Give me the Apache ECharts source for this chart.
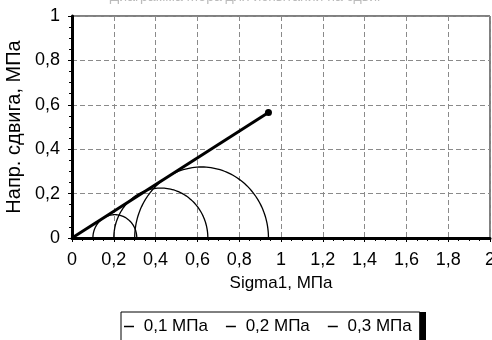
<!DOCTYPE html>
<html>
<head>
<meta charset="utf-8">
<script src="https://cdn.jsdelivr.net/npm/echarts@6/dist/echarts.min.js"></script>
<style>
    html, body { margin: 0; padding: 0; background: #fff; }
    #chart { width: 492px; height: 340px; }
</style>
</head>
<body>
<div id="chart"></div>
<script>
// данные: круги Мора (sigma3 -> sigma1) и огибающая
var circleNames = ['0,1 МПа', '0,2 МПа', '0,3 МПа'];
var sigma3 = [0.1, 0.2, 0.3];
var sigma1 = [0.31, 0.65, 0.94];
var envelope = [[0, 0], [0.94, 0.565]];

(function () {
    let myechart = echarts.init(document.getElementById('chart'));

    // запятая вместо точки
    function fmt(v) {
        return String(Math.round(v * 10) / 10).replace('.', ',');
    }

    // полукруг по двум точкам на оси sigma
    function renderCircle(params, api) {
        let s3 = api.value(0);
        let s1 = api.value(1);
        let c = (s3 + s1) / 2;
        let r = (s1 - s3) / 2;
        let pts = [];
        for (let k = 0; k <= 90; k++) {
            let a = Math.PI * k / 90;
            pts.push(api.coord([c + r * Math.cos(a), r * Math.sin(a)]));
        }
        return {
            type: 'polyline',
            shape: { points: pts },
            style: { stroke: '#000', lineWidth: 1.3, fill: null }
        };
    }

    let series = circleNames.map(function (name, i) {
        return {
            name: name,
            type: 'custom',
            renderItem: renderCircle,
            itemStyle: { color: '#000' },
            encode: { x: [0, 1] },
            data: [[sigma3[i], sigma1[i]]],
            z: 2
        };
    });
    series.push({
        name: 'envelope',
        type: 'line',
        data: envelope,
        lineStyle: { color: '#000', width: 3 },
        itemStyle: { color: '#000' },
        symbol: function (v, p) { return p.dataIndex === 1 ? 'circle' : 'none'; },
        symbolSize: 7,
        showSymbol: true,
        z: 3
    });

    let font = 'Liberation Sans';
    let dashed = { show: true, lineStyle: { color: '#8a8a8a', type: [5, 3], width: 1 } };

    var option = {
        animation: false,
        title: {
            text: 'Диаграмма Мора для испытаний на сдвиг',
            left: 'center',
            top: -15,
            textStyle: { color: '#bbb', fontSize: 14, fontWeight: 'normal', fontFamily: font }
        },
        // черная "тень" справа от легенды
        graphic: [{
            type: 'rect',
            left: 127,
            top: 312,
            shape: { width: 299, height: 40 },
            style: { fill: '#000' },
            z: 0
        }],
        grid: {
            left: 72,
            right: 2,
            top: 16,
            bottom: 102,
            outerBoundsMode: 'none',
            show: true,
            borderColor: '#000',
            borderWidth: 1
        },
        legend: {
            data: circleNames,
            left: 121,
            top: 312,
            padding: [6, 8, 10, 3],
            itemGap: 18,
            itemWidth: 10,
            itemHeight: 1.5,
            icon: 'rect',
            backgroundColor: '#fff',
            borderColor: '#000',
            borderWidth: 1,
            borderRadius: 0,
            formatter: function (n) { return ' ' + n; },
            textStyle: { color: '#000', fontFamily: font, fontSize: 17 },
            z: 5
        },
        xAxis: {
            type: 'value',
            min: 0,
            max: 2,
            interval: 0.2,
            name: 'Sigma1, МПа',
            nameLocation: 'middle',
            nameGap: 37,
            nameTextStyle: { color: '#000', fontFamily: font, fontSize: 17 },
            axisLine: { onZero: false, lineStyle: { color: '#000', width: 3 } },
            axisTick: { show: true, length: 4, lineStyle: { color: '#000' } },
            minorTick: { show: true, splitNumber: 4, length: 3, lineStyle: { color: '#000' } },
            axisLabel: { margin: 13, formatter: fmt, color: '#000', fontFamily: font, fontSize: 18 },
            splitLine: dashed
        },
        yAxis: {
            type: 'value',
            min: 0,
            max: 1,
            interval: 0.2,
            name: 'Напр. сдвига, МПа',
            nameLocation: 'middle',
            nameGap: 43,
            nameTextStyle: { color: '#000', fontFamily: font, fontSize: 20 },
            axisLine: { show: true, onZero: false, lineStyle: { color: '#000', width: 3 } },
            axisTick: { show: true, length: 4, lineStyle: { color: '#000' } },
            minorTick: { show: true, splitNumber: 4, length: 3, lineStyle: { color: '#000' } },
            axisLabel: { margin: 12, formatter: fmt, color: '#000', fontFamily: font, fontSize: 18 },
            splitLine: dashed
        },
        series: series
    };

    myechart.setOption(option);
    window.addEventListener('resize', function () {
        myechart.resize();
    });
})();
</script>
</body>
</html>
